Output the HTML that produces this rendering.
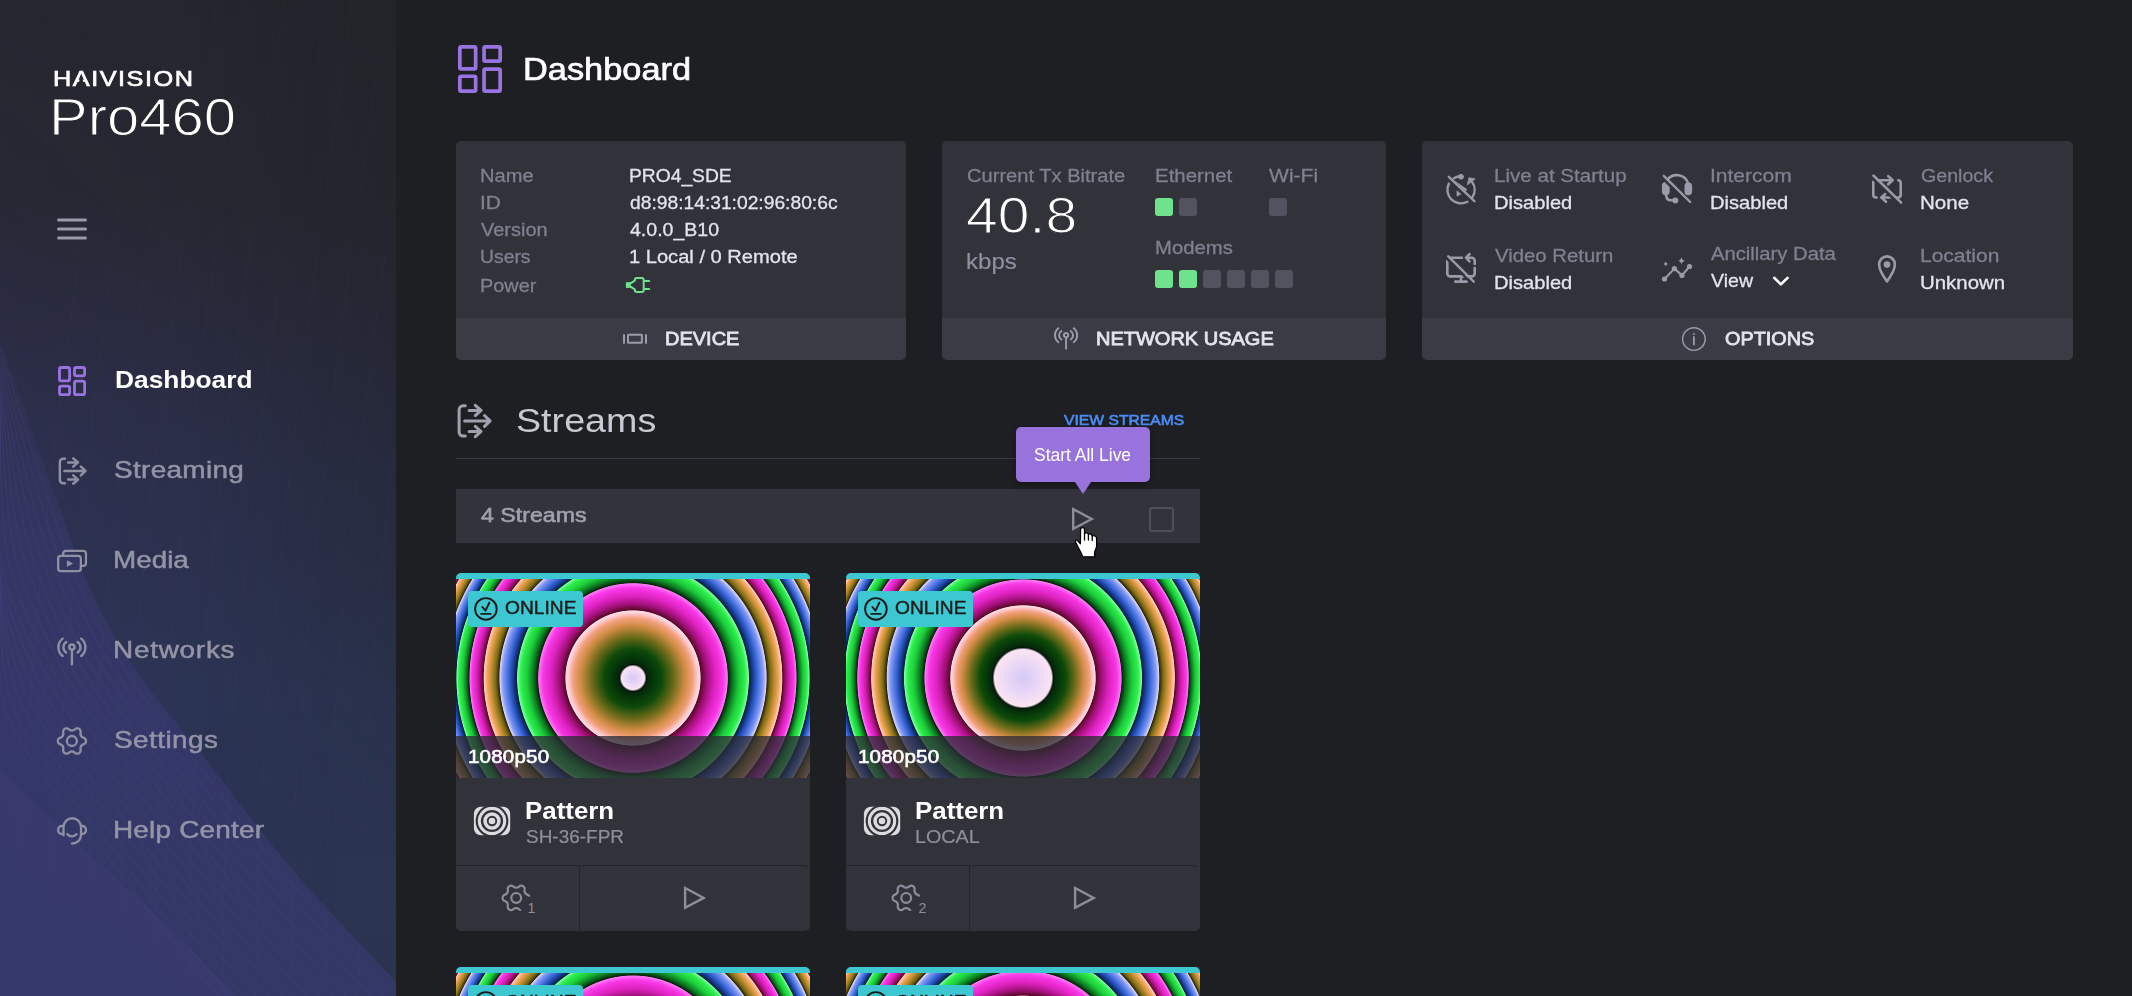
<!DOCTYPE html>
<html lang="en">
<head>
<meta charset="utf-8">
<title>Haivision Pro460 - Dashboard</title>
<style>
*{box-sizing:border-box;margin:0;padding:0}
html,body{width:2132px;height:996px;overflow:hidden;background:#1e1f22}
body{font-family:"Liberation Sans",sans-serif;color:#e4e4ec;position:relative}
.a{position:absolute}
.t{position:absolute;white-space:nowrap;line-height:1;transform-origin:0 50%}
svg{position:absolute;overflow:visible}
#side{position:absolute;left:0;top:0;width:396px;height:996px;overflow:hidden;background:#2a2e48}
.card{position:absolute;background:#31323a;border-radius:5px;overflow:hidden}
.foot{position:absolute;left:0;right:0;bottom:0;height:42px;background:#3a3b45}
.sq{position:absolute;width:18px;height:18px;border-radius:3px;background:#52535f}
.sq.on{background:#6fe28e}
.sc{position:absolute;width:354px;height:358px;border-radius:5px;overflow:hidden;background:#31323a}
</style>
</head>
<body>
<div id="side">
<div class="a" style="inset:0;background:linear-gradient(180deg,#25262d 0px,#26272f 200px,#282a3a 330px,#2a2f47 480px,#2b3452 700px,#2a3450 996px)"></div>
<div class="a" style="inset:0;background:linear-gradient(90deg,rgba(64,58,130,.17) 0%,rgba(60,56,120,.07) 50%,rgba(40,40,80,0) 85%);-webkit-mask-image:linear-gradient(180deg,rgba(0,0,0,.15) 0px,rgba(0,0,0,.45) 200px,#000 420px);mask-image:linear-gradient(180deg,rgba(0,0,0,.15) 0px,rgba(0,0,0,.45) 200px,#000 420px)"></div>
<div class="a" style="inset:0;background:linear-gradient(270deg,rgba(30,30,36,.24) 0%,rgba(30,30,36,.08) 28%,rgba(30,30,36,0) 50%);-webkit-mask-image:linear-gradient(180deg,#000 0px,#000 560px,transparent 860px);mask-image:linear-gradient(180deg,#000 0px,#000 560px,transparent 860px)"></div>
<svg style="left:0;top:0" width="396" height="996" viewBox="0 0 396 996"><defs><linearGradient id="pg" gradientUnits="userSpaceOnUse" x1="0" y1="340" x2="0" y2="996"><stop offset="0" stop-color="#34335e" stop-opacity=".25"/><stop offset=".3" stop-color="#38386c" stop-opacity=".6"/><stop offset=".6" stop-color="#36386c" stop-opacity=".78"/><stop offset="1" stop-color="#343868" stop-opacity=".85"/></linearGradient><linearGradient id="pg2" gradientUnits="userSpaceOnUse" x1="0" y1="996" x2="160" y2="840"><stop offset="0" stop-color="#36396c" stop-opacity=".75"/><stop offset=".8" stop-color="#3b3b72" stop-opacity=".6"/><stop offset="1" stop-color="#45417e" stop-opacity=".65"/></linearGradient></defs><path d="M0.0 340.0C9.2 365.8 39.2 451.7 55.0 495.0C70.8 538.3 80.3 569.2 95.0 600.0C109.7 630.8 125.7 654.8 143.0 680.0C160.3 705.2 174.2 719.5 199.0 751.0C223.8 782.5 259.2 830.5 292.0 869.0C324.8 907.5 378.7 963.2 396.0 982.0V996H0Z" fill="url(#pg)"/><path d="M0.0 770.0C13.3 782.7 53.5 821.3 80.0 846.0C106.5 870.7 132.7 892.7 159.0 918.0C185.3 943.3 224.8 984.7 238.0 998.0H0Z" fill="url(#pg2)"/><path d="M0.0 347.2C8.2 373.0 34.2 458.9 49.0 502.2C63.8 545.5 74.3 576.4 89.0 607.2C103.7 638.0 119.7 662.0 137.0 687.2C154.3 712.4 168.2 726.7 193.0 758.2C217.8 789.7 253.2 837.7 286.0 876.2C318.8 914.7 372.7 970.4 390.0 989.2" fill="none" stroke="#6a62c0" stroke-opacity=".13" stroke-width="1"/><path d="M0.0 354.4C7.2 380.2 29.2 466.1 43.0 509.4C56.8 552.7 68.3 583.6 83.0 614.4C97.7 645.2 113.7 669.2 131.0 694.4C148.3 719.6 162.2 733.9 187.0 765.4C211.8 796.9 247.2 844.9 280.0 883.4C312.8 921.9 366.7 977.6 384.0 996.4" fill="none" stroke="#6a62c0" stroke-opacity=".13" stroke-width="1"/><path d="M0.0 361.6C6.2 387.4 24.2 473.3 37.0 516.6C49.8 559.9 62.3 590.8 77.0 621.6C91.7 652.4 107.7 676.4 125.0 701.6C142.3 726.8 156.2 741.1 181.0 772.6C205.8 804.1 241.2 852.1 274.0 890.6C306.8 929.1 360.7 984.8 378.0 1003.6" fill="none" stroke="#6a62c0" stroke-opacity=".13" stroke-width="1"/><path d="M0.0 368.8C5.2 394.6 19.2 480.5 31.0 523.8C42.8 567.1 56.3 598.0 71.0 628.8C85.7 659.6 101.7 683.6 119.0 708.8C136.3 734.0 150.2 748.3 175.0 779.8C199.8 811.3 235.2 859.3 268.0 897.8C300.8 936.3 354.7 992.0 372.0 1010.8" fill="none" stroke="#6a62c0" stroke-opacity=".13" stroke-width="1"/><path d="M0.0 376.0C4.2 401.8 14.2 487.7 25.0 531.0C35.8 574.3 50.3 605.2 65.0 636.0C79.7 666.8 95.7 690.8 113.0 716.0C130.3 741.2 144.2 755.5 169.0 787.0C193.8 818.5 229.2 866.5 262.0 905.0C294.8 943.5 348.7 999.2 366.0 1018.0" fill="none" stroke="#6a62c0" stroke-opacity=".13" stroke-width="1"/><path d="M0.0 383.2C3.2 409.0 9.2 494.9 19.0 538.2C28.8 581.5 44.3 612.4 59.0 643.2C73.7 674.0 89.7 698.0 107.0 723.2C124.3 748.4 138.2 762.7 163.0 794.2C187.8 825.7 223.2 873.7 256.0 912.2C288.8 950.7 342.7 1006.4 360.0 1025.2" fill="none" stroke="#6a62c0" stroke-opacity=".13" stroke-width="1"/><path d="M0.0 390.4C2.2 416.2 4.2 502.1 13.0 545.4C21.8 588.7 38.3 619.6 53.0 650.4C67.7 681.2 83.7 705.2 101.0 730.4C118.3 755.6 132.2 769.9 157.0 801.4C181.8 832.9 217.2 880.9 250.0 919.4C282.8 957.9 336.7 1013.6 354.0 1032.4" fill="none" stroke="#6a62c0" stroke-opacity=".13" stroke-width="1"/><path d="M0.0 397.6C1.2 423.4 -0.8 509.3 7.0 552.6C14.8 595.9 32.3 626.8 47.0 657.6C61.7 688.4 77.7 712.4 95.0 737.6C112.3 762.8 126.2 777.1 151.0 808.6C175.8 840.1 211.2 888.1 244.0 926.6C276.8 965.1 330.7 1020.8 348.0 1039.6" fill="none" stroke="#6a62c0" stroke-opacity=".13" stroke-width="1"/><path d="M0.0 404.8C0.2 430.6 -5.8 516.5 1.0 559.8C7.8 603.1 26.3 634.0 41.0 664.8C55.7 695.6 71.7 719.6 89.0 744.8C106.3 770.0 120.2 784.3 145.0 815.8C169.8 847.3 205.2 895.3 238.0 933.8C270.8 972.3 324.7 1028.0 342.0 1046.8" fill="none" stroke="#6a62c0" stroke-opacity=".13" stroke-width="1"/><path d="M0.0 412.0C0.0 437.8 -5.8 523.7 0.0 567.0C5.8 610.3 21.2 641.2 35.0 672.0C48.8 702.8 65.7 726.8 83.0 752.0C100.3 777.2 114.2 791.5 139.0 823.0C163.8 854.5 199.2 902.5 232.0 941.0C264.8 979.5 318.7 1035.2 336.0 1054.0" fill="none" stroke="#6a62c0" stroke-opacity=".13" stroke-width="1"/><path d="M0.0 419.2C0.0 445.0 -4.8 530.9 0.0 574.2C4.8 617.5 16.2 648.4 29.0 679.2C41.8 710.0 59.7 734.0 77.0 759.2C94.3 784.4 108.2 798.7 133.0 830.2C157.8 861.7 193.2 909.7 226.0 948.2C258.8 986.7 312.7 1042.4 330.0 1061.2" fill="none" stroke="#6a62c0" stroke-opacity=".13" stroke-width="1"/><path d="M0.0 426.4C0.0 452.2 -3.8 538.1 0.0 581.4C3.8 624.7 11.2 655.6 23.0 686.4C34.8 717.2 53.7 741.2 71.0 766.4C88.3 791.6 102.2 805.9 127.0 837.4C151.8 868.9 187.2 916.9 220.0 955.4C252.8 993.9 306.7 1049.6 324.0 1068.4" fill="none" stroke="#6a62c0" stroke-opacity=".13" stroke-width="1"/><path d="M0.0 433.6C0.0 459.4 -2.8 545.3 0.0 588.6C2.8 631.9 6.2 662.8 17.0 693.6C27.8 724.4 47.7 748.4 65.0 773.6C82.3 798.8 96.2 813.1 121.0 844.6C145.8 876.1 181.2 924.1 214.0 962.6C246.8 1001.1 300.7 1056.8 318.0 1075.6" fill="none" stroke="#6a62c0" stroke-opacity=".13" stroke-width="1"/><path d="M0.0 440.8C0.0 466.6 -1.8 552.5 0.0 595.8C1.8 639.1 1.2 670.0 11.0 700.8C20.8 731.6 41.7 755.6 59.0 780.8C76.3 806.0 90.2 820.3 115.0 851.8C139.8 883.3 175.2 931.3 208.0 969.8C240.8 1008.3 294.7 1064.0 312.0 1082.8" fill="none" stroke="#6a62c0" stroke-opacity=".13" stroke-width="1"/><path d="M0.0 448.0C0.0 473.8 -0.8 559.7 0.0 603.0C0.8 646.3 -3.8 677.2 5.0 708.0C13.8 738.8 35.7 762.8 53.0 788.0C70.3 813.2 84.2 827.5 109.0 859.0C133.8 890.5 169.2 938.5 202.0 977.0C234.8 1015.5 288.7 1071.2 306.0 1090.0" fill="none" stroke="#6a62c0" stroke-opacity=".13" stroke-width="1"/><path d="M20 996C14 800 45 500 80 250L115 -5" fill="none" stroke="#8a86c8" stroke-opacity=".04" stroke-width="1"/><path d="M54 996C48 800 79 500 114 250L149 -5" fill="none" stroke="#8a86c8" stroke-opacity=".04" stroke-width="1"/><path d="M88 996C82 800 113 500 148 250L183 -5" fill="none" stroke="#8a86c8" stroke-opacity=".04" stroke-width="1"/><path d="M122 996C116 800 147 500 182 250L217 -5" fill="none" stroke="#8a86c8" stroke-opacity=".04" stroke-width="1"/><path d="M156 996C150 800 181 500 216 250L251 -5" fill="none" stroke="#8a86c8" stroke-opacity=".04" stroke-width="1"/><path d="M190 996C184 800 215 500 250 250L285 -5" fill="none" stroke="#8a86c8" stroke-opacity=".04" stroke-width="1"/><path d="M224 996C218 800 249 500 284 250L319 -5" fill="none" stroke="#8a86c8" stroke-opacity=".04" stroke-width="1"/><path d="M258 996C252 800 283 500 318 250L353 -5" fill="none" stroke="#8a86c8" stroke-opacity=".04" stroke-width="1"/><path d="M292 996C286 800 317 500 352 250L387 -5" fill="none" stroke="#8a86c8" stroke-opacity=".04" stroke-width="1"/><path d="M326 996C320 800 351 500 386 250L421 -5" fill="none" stroke="#8a86c8" stroke-opacity=".04" stroke-width="1"/><path d="M360 996C354 800 385 500 420 250L455 -5" fill="none" stroke="#8a86c8" stroke-opacity=".04" stroke-width="1"/><path d="M394 996C388 800 419 500 454 250L489 -5" fill="none" stroke="#8a86c8" stroke-opacity=".04" stroke-width="1"/></svg>
</div>
<div class="t" style="left:52.86px;top:67.70px;font-size:22.2px;color:#ffffff;letter-spacing:1.316px;transform:scaleX(1.1400);-webkit-text-stroke:0.7px #ffffff;">HAIVISION</div>
<div class="t" style="left:48.95px;top:92.40px;font-size:51px;color:#ffffff;transform:scaleX(1.1377);-webkit-text-stroke:1.1px #25262e;">Pro460</div>
<svg style="left:0;top:0" width="396" height="120" viewBox="0 0 396 120"><path d="M81.2 75.6L77.2 87H85.2Z" fill="#26272f"/></svg>
<svg style="left:57px;top:218px" width="30" height="22" viewBox="0 0 30 22"><g stroke="#9a9aa8" stroke-width="3" stroke-linecap="round"><path d="M1.5 2H28.5M1.5 11H28.5M1.5 20H28.5"/></g></svg>
<div class="t" style="left:114.52px;top:368.25px;font-size:24.5px;color:#ffffff;font-weight:700;transform:scaleX(1.0754);">Dashboard</div>
<div class="t" style="left:114.46px;top:458.25px;font-size:24.5px;color:#9594a6;letter-spacing:0.281px;transform:scaleX(1.1400);-webkit-text-stroke:0.5px #9594a6;">Streaming</div>
<div class="t" style="left:113.33px;top:548.25px;font-size:24.5px;color:#9594a6;transform:scaleX(1.1367);-webkit-text-stroke:0.5px #9594a6;">Media</div>
<div class="t" style="left:113.32px;top:638.25px;font-size:24.5px;color:#9594a6;letter-spacing:0.648px;transform:scaleX(1.1400);-webkit-text-stroke:0.5px #9594a6;">Networks</div>
<div class="t" style="left:114.46px;top:728.25px;font-size:24.5px;color:#9594a6;letter-spacing:0.377px;transform:scaleX(1.1400);-webkit-text-stroke:0.5px #9594a6;">Settings</div>
<div class="t" style="left:113.32px;top:818.25px;font-size:24.5px;color:#9594a6;letter-spacing:0.169px;transform:scaleX(1.1400);-webkit-text-stroke:0.5px #9594a6;">Help Center</div>
<div class="t" style="left:523.15px;top:53.00px;font-size:32px;color:#ffffff;transform:scaleX(1.0736);-webkit-text-stroke:0.7px #ffffff;">Dashboard</div>
<div class="card" style="left:456px;top:141px;width:450px;height:219px"><div class="foot"></div></div>
<div class="t" style="left:479.64px;top:166.00px;font-size:19px;color:#7f8190;transform:scaleX(1.0587);-webkit-text-stroke:0.3px #7f8190;">Name</div>
<div class="t" style="left:629.39px;top:166.00px;font-size:19px;color:#e4e4ec;transform:scaleX(1.0130);-webkit-text-stroke:0.3px #e4e4ec;">PRO4_SDE</div>
<div class="t" style="left:479.60px;top:193.00px;font-size:19px;color:#7f8190;transform:scaleX(1.0996);-webkit-text-stroke:0.3px #7f8190;">ID</div>
<div class="t" style="left:630.40px;top:193.00px;font-size:19px;color:#e4e4ec;transform:scaleX(1.0124);-webkit-text-stroke:0.3px #e4e4ec;">d8:98:14:31:02:96:80:6c</div>
<div class="t" style="left:480.70px;top:220.00px;font-size:19px;color:#7f8190;transform:scaleX(1.0508);-webkit-text-stroke:0.3px #7f8190;">Version</div>
<div class="t" style="left:630.40px;top:220.00px;font-size:19px;color:#e4e4ec;transform:scaleX(1.0271);-webkit-text-stroke:0.3px #e4e4ec;">4.0.0_B10</div>
<div class="t" style="left:479.68px;top:247.00px;font-size:19px;color:#7f8190;transform:scaleX(1.0184);-webkit-text-stroke:0.3px #7f8190;">Users</div>
<div class="t" style="left:629.34px;top:247.00px;font-size:19px;color:#e4e4ec;transform:scaleX(1.0576);-webkit-text-stroke:0.3px #e4e4ec;">1 Local / 0 Remote</div>
<div class="t" style="left:479.65px;top:276.00px;font-size:19px;color:#7f8190;transform:scaleX(1.0462);-webkit-text-stroke:0.3px #7f8190;">Power</div>
<div class="t" style="left:664.95px;top:329.00px;font-size:19px;color:#e4e4ec;transform:scaleX(1.0526);-webkit-text-stroke:0.8px #e4e4ec;">DEVICE</div>
<div class="card" style="left:942px;top:141px;width:444px;height:219px"><div class="foot"></div></div>
<div class="t" style="left:966.80px;top:166.00px;font-size:19px;color:#7f8190;transform:scaleX(1.0578);-webkit-text-stroke:0.3px #7f8190;">Current Tx Bitrate</div>
<div class="t" style="left:966.16px;top:191.00px;font-size:50px;color:#ffffff;letter-spacing:0.077px;transform:scaleX(1.1400);-webkit-text-stroke:1.1px #31323a;">40.8</div>
<div class="t" style="left:965.91px;top:250.70px;font-size:22px;color:#8e90a0;transform:scaleX(1.0930);-webkit-text-stroke:0.2px #8e90a0;">kbps</div>
<div class="t" style="left:1154.52px;top:166.00px;font-size:19px;color:#7f8190;transform:scaleX(1.0762);-webkit-text-stroke:0.3px #7f8190;">Ethernet</div>
<div class="t" style="left:1269.40px;top:166.00px;font-size:19px;color:#7f8190;transform:scaleX(1.1094);-webkit-text-stroke:0.3px #7f8190;">Wi-Fi</div>
<div class="t" style="left:1154.53px;top:238.00px;font-size:19px;color:#7f8190;transform:scaleX(1.0679);-webkit-text-stroke:0.3px #7f8190;">Modems</div>
<div class="sq on" style="left:1155px;top:198px"></div>
<div class="sq" style="left:1179px;top:198px"></div>
<div class="sq" style="left:1269px;top:198px"></div>
<div class="sq on" style="left:1155px;top:270px"></div>
<div class="sq on" style="left:1179px;top:270px"></div>
<div class="sq" style="left:1203px;top:270px"></div>
<div class="sq" style="left:1227px;top:270px"></div>
<div class="sq" style="left:1251px;top:270px"></div>
<div class="sq" style="left:1275px;top:270px"></div>
<div class="t" style="left:1096.25px;top:329.00px;font-size:19px;color:#e4e4ec;transform:scaleX(1.0524);-webkit-text-stroke:0.8px #e4e4ec;">NETWORK USAGE</div>
<div class="card" style="left:1422px;top:141px;width:651px;height:219px"><div class="foot"></div></div>
<div class="t" style="left:1494.02px;top:166.10px;font-size:19px;color:#7f8190;transform:scaleX(1.0831);-webkit-text-stroke:0.3px #7f8190;">Live at Startup</div>
<div class="t" style="left:1494.04px;top:193.30px;font-size:19px;color:#e4e4ec;transform:scaleX(1.0585);-webkit-text-stroke:0.3px #e4e4ec;">Disabled</div>
<div class="t" style="left:1495.10px;top:245.50px;font-size:19px;color:#7f8190;transform:scaleX(1.0710);-webkit-text-stroke:0.3px #7f8190;">Video Return</div>
<div class="t" style="left:1494.04px;top:273.00px;font-size:19px;color:#e4e4ec;transform:scaleX(1.0585);-webkit-text-stroke:0.3px #e4e4ec;">Disabled</div>
<div class="t" style="left:1709.59px;top:166.10px;font-size:19px;color:#7f8190;transform:scaleX(1.1056);-webkit-text-stroke:0.3px #7f8190;">Intercom</div>
<div class="t" style="left:1709.64px;top:193.30px;font-size:19px;color:#e4e4ec;transform:scaleX(1.0585);-webkit-text-stroke:0.3px #e4e4ec;">Disabled</div>
<div class="t" style="left:1710.70px;top:243.80px;font-size:19px;color:#7f8190;transform:scaleX(1.0651);-webkit-text-stroke:0.3px #7f8190;">Ancillary Data</div>
<div class="t" style="left:1710.70px;top:270.80px;font-size:19px;color:#e4e4ec;transform:scaleX(1.0288);-webkit-text-stroke:0.3px #e4e4ec;">View</div>
<div class="t" style="left:1920.80px;top:166.10px;font-size:19px;color:#7f8190;transform:scaleX(1.0328);-webkit-text-stroke:0.3px #7f8190;">Genlock</div>
<div class="t" style="left:1919.72px;top:193.30px;font-size:19px;color:#e4e4ec;transform:scaleX(1.0808);-webkit-text-stroke:0.3px #e4e4ec;">None</div>
<div class="t" style="left:1919.70px;top:245.50px;font-size:19px;color:#7f8190;transform:scaleX(1.1044);-webkit-text-stroke:0.3px #7f8190;">Location</div>
<div class="t" style="left:1919.72px;top:273.00px;font-size:19px;color:#e4e4ec;transform:scaleX(1.0754);-webkit-text-stroke:0.3px #e4e4ec;">Unknown</div>
<div class="t" style="left:1724.50px;top:329.00px;font-size:19px;color:#e4e4ec;transform:scaleX(1.0432);-webkit-text-stroke:0.8px #e4e4ec;">OPTIONS</div>
<div class="t" style="left:516.39px;top:402.50px;font-size:34px;color:#c9c9d4;transform:scaleX(1.1077);">Streams</div>
<div class="t" style="left:1063.80px;top:412.00px;font-size:15px;color:#4b8df6;transform:scaleX(1.0452);-webkit-text-stroke:0.6px #4b8df6;">VIEW STREAMS</div>
<div class="a" style="left:456px;top:457.5px;width:744px;height:1.5px;background:#383942"></div>
<div class="a" style="left:456px;top:489px;width:744px;height:54px;background:#32333b"></div>
<div class="t" style="left:480.80px;top:505.25px;font-size:20.5px;color:#a0a1ae;transform:scaleX(1.1291);-webkit-text-stroke:0.6px #a0a1ae;">4 Streams</div>
<div class="a" style="left:1148.5px;top:506.5px;width:25px;height:25px;border:2.5px solid #4f505c;border-radius:3px"></div>
<div class="a" style="left:1016px;top:427px;width:134px;height:55px;background:#9873dc;border-radius:5px;box-shadow:0 2px 6px rgba(0,0,0,.35)"></div>
<div class="a" style="left:1075px;top:481.5px;width:0;height:0;border-left:8px solid transparent;border-right:8px solid transparent;border-top:12.5px solid #9873dc"></div>
<div class="t" style="left:1034.40px;top:446.55px;font-size:17.5px;color:#ffffff;transform:scaleX(0.9980);">Start All Live</div>
<div class="sc" style="left:456px;top:573px">
<div class="a" style="left:0;top:0;width:354px;height:205px;background:#3cc7d1"></div>
<div class="a" style="left:0;top:6px;width:354px;height:199px;overflow:hidden"><div class="a" style="left:-40px;top:-118px;width:434px;height:434px;background:radial-gradient(circle at 50% 50%,#d6c8f6 0.0px,#ead8f6 7.2px,#fbe4f2 11.5px,#03140c 13.5px,#04240a 14.5px,#063a08 21.9px,#0e4a0a 29.2px,#6a6a18 40.8px,#d08c44 52.4px,#f2a07c 59.8px,#ffc9cf 64.5px,#ffe0ea 67.2px,#5a0826 68.0px,#a01078 73.8px,#dc22be 81.7px,#fa38e8 90.2px,#ff7af6 94.4px,#04220a 95.2px,#0b7a20 99.7px,#1ccc3a 105.8px,#2ff04e 112.2px,#7dffa0 115.5px,#051c3c 116.3px,#17409c 120.0px,#446ede 125.1px,#869cf4 130.2px,#d6d4ff 133.2px,#2e2604 134.0px,#7a6a14 137.3px,#c08e34 141.8px,#fca862 146.3px,#ffd6c6 148.9px,#5a0826 149.7px,#a01078 152.7px,#dc22be 156.7px,#fa38e8 161.0px,#ff7af6 163.1px,#04220a 163.9px,#0b7a20 166.6px,#1ccc3a 170.3px,#2ff04e 174.2px,#7dffa0 176.2px,#051c3c 177.0px,#17409c 179.5px,#446ede 182.9px,#869cf4 186.3px,#d6d4ff 188.3px,#2e2604 189.1px,#7a6a14 191.5px,#c08e34 194.6px,#fca862 197.8px,#ffd6c6 199.7px,#5a0826 200.5px,#a01078 202.7px,#dc22be 205.7px,#fa38e8 208.9px,#ff7af6 210.6px,#04220a 211.4px,#0b7a20 213.4px,#1ccc3a 216.3px,#2ff04e 219.3px,#7dffa0 220.8px)"></div></div>
<div class="a" style="left:0;top:163px;width:354px;height:42px;background:rgba(44,44,52,.78)"></div>
<div class="a" style="left:12px;top:18px;width:115px;height:36px;border-radius:4px;background:#3cc7d1"></div>
<div class="a" style="left:0;top:291.6px;width:123.5px;height:67px;border-top:1.3px solid #24252a"></div>
<div class="a" style="left:122.9px;top:291.6px;width:231.1px;height:67px;border-top:1.3px solid #24252a;border-left:1.3px solid #24252a;border-right:1.3px solid transparent;border-top-right-radius:7px"></div>
</div>
<div class="t" style="left:505.30px;top:600.15px;font-size:17.5px;color:#1f1a1a;transform:scaleX(1.0964);-webkit-text-stroke:0.4px #1f1a1a;">ONLINE</div>
<div class="t" style="left:467.66px;top:748.20px;font-size:18px;color:#ffffff;letter-spacing:0.185px;transform:scaleX(1.1400);-webkit-text-stroke:0.6px #ffffff;">1080p50</div>
<div class="t" style="left:525.22px;top:798.50px;font-size:24px;color:#ffffff;font-weight:700;transform:scaleX(1.0786);">Pattern</div>
<div class="t" style="left:526.30px;top:827.85px;font-size:18.5px;color:#8e8f9c;transform:scaleX(1.0248);-webkit-text-stroke:0.2px #8e8f9c;">SH-36-FPR</div>
<div class="t" style="left:527.60px;top:900.80px;font-size:14.2px;color:#8e8f9c;">1</div>
<div class="sc" style="left:846px;top:573px">
<div class="a" style="left:0;top:0;width:354px;height:205px;background:#3cc7d1"></div>
<div class="a" style="left:0;top:6px;width:354px;height:199px;overflow:hidden"><div class="a" style="left:-40px;top:-118px;width:434px;height:434px;background:radial-gradient(circle at 50% 50%,#d6c8f6 0.0px,#ead8f6 16.5px,#fbe4f2 28.5px,#03140c 30.5px,#04240a 31.5px,#063a08 37.2px,#0e4a0a 42.9px,#6a6a18 51.9px,#d08c44 60.9px,#f2a07c 66.6px,#ffc9cf 70.3px,#ffe0ea 72.3px,#5a0826 73.1px,#a01078 78.7px,#dc22be 86.2px,#fa38e8 94.2px,#ff7af6 98.2px,#04220a 99.0px,#0b7a20 103.3px,#1ccc3a 109.2px,#2ff04e 115.4px,#7dffa0 118.6px,#051c3c 119.4px,#17409c 123.0px,#446ede 128.0px,#869cf4 133.0px,#d6d4ff 135.9px,#2e2604 136.7px,#7a6a14 140.0px,#c08e34 144.3px,#fca862 148.7px,#ffd6c6 151.4px,#5a0826 152.2px,#a01078 155.1px,#dc22be 159.0px,#fa38e8 163.2px,#ff7af6 165.3px,#04220a 166.1px,#0b7a20 168.8px,#1ccc3a 172.4px,#2ff04e 176.3px,#7dffa0 178.2px,#051c3c 179.0px,#17409c 181.5px,#446ede 184.9px,#869cf4 188.2px,#d6d4ff 190.2px,#2e2604 191.0px,#7a6a14 193.4px,#c08e34 196.5px,#fca862 199.7px,#ffd6c6 201.6px,#5a0826 202.4px,#a01078 204.5px,#dc22be 207.5px,#fa38e8 210.7px,#ff7af6 212.3px,#04220a 213.1px,#0b7a20 215.1px,#1ccc3a 218.0px,#2ff04e 221.0px,#7dffa0 222.5px)"></div></div>
<div class="a" style="left:0;top:163px;width:354px;height:42px;background:rgba(44,44,52,.78)"></div>
<div class="a" style="left:12px;top:18px;width:115px;height:36px;border-radius:4px;background:#3cc7d1"></div>
<div class="a" style="left:0;top:291.6px;width:123.5px;height:67px;border-top:1.3px solid #24252a"></div>
<div class="a" style="left:122.9px;top:291.6px;width:231.1px;height:67px;border-top:1.3px solid #24252a;border-left:1.3px solid #24252a;border-right:1.3px solid transparent;border-top-right-radius:7px"></div>
</div>
<div class="t" style="left:895.30px;top:600.15px;font-size:17.5px;color:#1f1a1a;transform:scaleX(1.0964);-webkit-text-stroke:0.4px #1f1a1a;">ONLINE</div>
<div class="t" style="left:857.66px;top:748.20px;font-size:18px;color:#ffffff;letter-spacing:0.185px;transform:scaleX(1.1400);-webkit-text-stroke:0.6px #ffffff;">1080p50</div>
<div class="t" style="left:915.22px;top:798.50px;font-size:24px;color:#ffffff;font-weight:700;transform:scaleX(1.0786);">Pattern</div>
<div class="t" style="left:915.23px;top:827.85px;font-size:18.5px;color:#8e8f9c;transform:scaleX(1.0677);-webkit-text-stroke:0.2px #8e8f9c;">LOCAL</div>
<div class="t" style="left:918.60px;top:900.80px;font-size:14.2px;color:#8e8f9c;">2</div>
<div class="sc" style="left:456px;top:967px">
<div class="a" style="left:0;top:0;width:354px;height:205px;background:#3cc7d1"></div>
<div class="a" style="left:0;top:6px;width:354px;height:199px;overflow:hidden"><div class="a" style="left:-40px;top:-118px;width:434px;height:434px;background:radial-gradient(circle at 50% 50%,#d6c8f6 0.0px,#ead8f6 12.1px,#fbe4f2 20.5px,#03140c 22.5px,#04240a 23.5px,#063a08 29.9px,#0e4a0a 36.4px,#6a6a18 46.5px,#d08c44 56.6px,#f2a07c 63.0px,#ffc9cf 67.1px,#ffe0ea 69.4px,#5a0826 70.2px,#a01078 75.9px,#dc22be 83.7px,#fa38e8 91.9px,#ff7af6 96.1px,#04220a 96.9px,#0b7a20 101.3px,#1ccc3a 107.2px,#2ff04e 113.6px,#7dffa0 116.8px,#051c3c 117.6px,#17409c 121.3px,#446ede 126.4px,#869cf4 131.4px,#d6d4ff 134.4px,#2e2604 135.2px,#7a6a14 138.5px,#c08e34 142.9px,#fca862 147.3px,#ffd6c6 150.0px,#5a0826 150.8px,#a01078 153.7px,#dc22be 157.7px,#fa38e8 161.9px,#ff7af6 164.1px,#04220a 164.9px,#0b7a20 167.6px,#1ccc3a 171.2px,#2ff04e 175.1px,#7dffa0 177.1px,#051c3c 177.9px,#17409c 180.3px,#446ede 183.7px,#869cf4 187.1px,#d6d4ff 189.2px,#2e2604 190.0px,#7a6a14 192.3px,#c08e34 195.5px,#fca862 198.6px,#ffd6c6 200.5px,#5a0826 201.3px,#a01078 203.5px,#dc22be 206.5px,#fa38e8 209.7px,#ff7af6 211.3px,#04220a 212.1px,#0b7a20 214.2px,#1ccc3a 217.0px,#2ff04e 220.0px,#7dffa0 221.5px)"></div></div>
<div class="a" style="left:0;top:163px;width:354px;height:42px;background:rgba(44,44,52,.78)"></div>
<div class="a" style="left:12px;top:18px;width:115px;height:36px;border-radius:4px;background:#3cc7d1"></div>
<div class="a" style="left:0;top:291.6px;width:123.5px;height:67px;border-top:1.3px solid #24252a"></div>
<div class="a" style="left:122.9px;top:291.6px;width:231.1px;height:67px;border-top:1.3px solid #24252a;border-left:1.3px solid #24252a;border-right:1.3px solid transparent;border-top-right-radius:7px"></div>
</div>
<div class="t" style="left:505.30px;top:994.15px;font-size:17.5px;color:#1f1a1a;transform:scaleX(1.0964);-webkit-text-stroke:0.4px #1f1a1a;">ONLINE</div>
<div class="t" style="left:467.66px;top:1142.20px;font-size:18px;color:#ffffff;letter-spacing:0.185px;transform:scaleX(1.1400);-webkit-text-stroke:0.6px #ffffff;">1080p50</div>
<div class="t" style="left:525.22px;top:1192.50px;font-size:24px;color:#ffffff;font-weight:700;transform:scaleX(1.0786);">Pattern</div>
<div class="t" style="left:526.30px;top:1221.85px;font-size:18.5px;color:#8e8f9c;-webkit-text-stroke:0.2px #8e8f9c;"></div>
<div class="t" style="left:528.60px;top:1294.80px;font-size:14.2px;color:#8e8f9c;"></div>
<div class="sc" style="left:846px;top:967px">
<div class="a" style="left:0;top:0;width:354px;height:205px;background:#3cc7d1"></div>
<div class="a" style="left:0;top:6px;width:354px;height:199px;overflow:hidden"><div class="a" style="left:-40px;top:-118px;width:434px;height:434px;background:radial-gradient(circle at 50% 50%,#d6c8f6 0.0px,#ead8f6 20.9px,#fbe4f2 36.5px,#03140c 38.5px,#04240a 39.5px,#063a08 44.6px,#0e4a0a 49.7px,#6a6a18 57.7px,#d08c44 65.8px,#f2a07c 70.9px,#ffc9cf 74.1px,#ffe0ea 76.0px,#5a0826 76.8px,#a01078 82.1px,#dc22be 89.3px,#fa38e8 97.0px,#ff7af6 100.9px,#04220a 101.7px,#0b7a20 105.9px,#1ccc3a 111.7px,#2ff04e 117.8px,#7dffa0 120.8px,#051c3c 121.6px,#17409c 125.2px,#446ede 130.1px,#869cf4 135.0px,#d6d4ff 137.9px,#2e2604 138.7px,#7a6a14 141.9px,#c08e34 146.2px,#fca862 150.5px,#ffd6c6 153.1px,#5a0826 153.9px,#a01078 156.8px,#dc22be 160.7px,#fa38e8 164.9px,#ff7af6 167.0px,#04220a 167.8px,#0b7a20 170.4px,#1ccc3a 174.0px,#2ff04e 177.8px,#7dffa0 179.7px,#051c3c 180.5px,#17409c 183.0px,#446ede 186.3px,#869cf4 189.7px,#d6d4ff 191.7px,#2e2604 192.5px,#7a6a14 194.8px,#c08e34 197.9px,#fca862 201.0px,#ffd6c6 202.9px,#5a0826 203.7px,#a01078 205.9px,#dc22be 208.8px,#fa38e8 212.0px,#ff7af6 213.5px,#04220a 214.3px,#0b7a20 216.4px,#1ccc3a 219.2px,#2ff04e 222.2px,#7dffa0 223.7px)"></div></div>
<div class="a" style="left:0;top:163px;width:354px;height:42px;background:rgba(44,44,52,.78)"></div>
<div class="a" style="left:12px;top:18px;width:115px;height:36px;border-radius:4px;background:#3cc7d1"></div>
<div class="a" style="left:0;top:291.6px;width:123.5px;height:67px;border-top:1.3px solid #24252a"></div>
<div class="a" style="left:122.9px;top:291.6px;width:231.1px;height:67px;border-top:1.3px solid #24252a;border-left:1.3px solid #24252a;border-right:1.3px solid transparent;border-top-right-radius:7px"></div>
</div>
<div class="t" style="left:895.30px;top:994.15px;font-size:17.5px;color:#1f1a1a;transform:scaleX(1.0964);-webkit-text-stroke:0.4px #1f1a1a;">ONLINE</div>
<div class="t" style="left:857.66px;top:1142.20px;font-size:18px;color:#ffffff;letter-spacing:0.185px;transform:scaleX(1.1400);-webkit-text-stroke:0.6px #ffffff;">1080p50</div>
<div class="t" style="left:915.22px;top:1192.50px;font-size:24px;color:#ffffff;font-weight:700;transform:scaleX(1.0786);">Pattern</div>
<div class="t" style="left:916.30px;top:1221.85px;font-size:18.5px;color:#8e8f9c;-webkit-text-stroke:0.2px #8e8f9c;"></div>
<div class="t" style="left:918.60px;top:1294.80px;font-size:14.2px;color:#8e8f9c;"></div>
<svg style="left:0;top:0;z-index:50" width="2132" height="996" viewBox="0 0 2132 996"><g fill="none" stroke="#9973e2" stroke-width="2.8" stroke-linecap="round" stroke-linejoin="round" ><rect x="59.50" y="367.50" width="10.10" height="13.30" rx="1.80"/><rect x="59.50" y="386.20" width="10.10" height="8.50" rx="1.80"/><rect x="74.50" y="367.50" width="10.10" height="8.30" rx="1.80"/><rect x="74.50" y="381.10" width="10.10" height="13.60" rx="1.80"/></g>
<g fill="none" stroke="#9973e2" stroke-width="3.7" stroke-linecap="round" stroke-linejoin="round" ><rect x="459.85" y="46.85" width="15.80" height="22.00" rx="1.35"/><rect x="459.85" y="76.25" width="15.80" height="14.90" rx="1.35"/><rect x="484.05" y="46.85" width="16.10" height="14.30" rx="1.35"/><rect x="484.05" y="69.15" width="16.10" height="22.00" rx="1.35"/></g>
<g fill="none" stroke="#a0a1ae" stroke-width="3" stroke-linecap="round" stroke-linejoin="round" ><path d="M465.3 405.8H463.1a4 4 0 0 0-4 4V432.1a4 4 0 0 0 4 4H465.3M469.1 410.4H480.6M475.3 405.3L481.1 410.4L475.3 415.6M464.6 420.9H489.6M484.5 415.5L490.1 420.9L484.5 426.4M469.1 431.5H480.6M475.3 426.3L481.1 431.5L475.3 436.7"/></g>
<g fill="none" stroke="#8f90a2" stroke-width="3" stroke-linecap="round" stroke-linejoin="round" transform="translate(-319.028,129.803) scale(0.8253,0.8105)"><path d="M465.3 405.8H463.1a4 4 0 0 0-4 4V432.1a4 4 0 0 0 4 4H465.3M469.1 410.4H480.6M475.3 405.3L481.1 410.4L475.3 415.6M464.6 420.9H489.6M484.5 415.5L490.1 420.9L484.5 426.4M469.1 431.5H480.6M475.3 426.3L481.1 431.5L475.3 436.7"/></g>
<g fill="none" stroke="#8f90a2" stroke-width="2.3" stroke-linecap="round" stroke-linejoin="round" ><rect x="58.15" y="555.95" width="22.7" height="15.2" rx="2.6"/><path d="M63.15 555V553.45a2.6 2.6 0 0 1 2.6-2.6H83.35a2.6 2.6 0 0 1 2.6 2.6V563.25a2.6 2.6 0 0 1-2.6 2.6H82"/></g>
<g fill="#8f90a2" stroke="none" stroke-width="0" stroke-linecap="round" stroke-linejoin="round" ><path d="M66.9 560.2L73.1 563.6L66.9 567Z"/></g>
<g fill="none" stroke="#8f90a2" stroke-width="2.4" stroke-linecap="round" stroke-linejoin="round" ><circle cx="71.9" cy="647.1" r="2.6"/><path d="M71.9 650.5V664.3M66.2 642A6.4 6.4 0 0 0 66.2 652.6M77.6 642A6.4 6.4 0 0 1 77.6 652.6M62.6 638.6A11.1 11.1 0 0 0 62.6 656M81.2 638.6A11.1 11.1 0 0 1 81.2 656"/></g>
<g fill="none" stroke="#9a9ba8" stroke-width="2.4" stroke-linecap="round" stroke-linejoin="round" transform="translate(1007.007,-180.223) scale(0.8215,0.7964)"><circle cx="71.9" cy="647.1" r="2.6"/><path d="M71.9 650.5V664.3M66.2 642A6.4 6.4 0 0 0 66.2 652.6M77.6 642A6.4 6.4 0 0 1 77.6 652.6M62.6 638.6A11.1 11.1 0 0 0 62.6 656M81.2 638.6A11.1 11.1 0 0 1 81.2 656"/></g>
<g fill="none" stroke="#8f90a2" stroke-width="2.3" stroke-linecap="round" stroke-linejoin="round" ><path d="M86.00 741.00L85.92 741.73L85.68 742.45L85.27 743.12L84.71 743.72L83.78 744.18L82.85 744.56L82.22 744.96L81.72 745.37L81.31 745.80L80.99 746.25L80.76 746.75L80.60 747.32L80.49 747.96L80.45 748.70L80.60 749.70L80.66 750.73L80.42 751.52L80.04 752.21L79.55 752.77L78.95 753.21L78.27 753.51L77.53 753.65L76.75 753.64L75.95 753.45L75.08 752.88L74.29 752.26L73.63 751.92L73.02 751.69L72.45 751.55L71.90 751.50L71.35 751.55L70.78 751.69L70.17 751.92L69.51 752.26L68.72 752.88L67.85 753.45L67.05 753.64L66.27 753.65L65.53 753.51L64.85 753.21L64.25 752.77L63.76 752.21L63.38 751.52L63.14 750.73L63.20 749.70L63.35 748.70L63.31 747.96L63.20 747.32L63.04 746.75L62.81 746.25L62.49 745.80L62.08 745.37L61.58 744.96L60.95 744.56L60.02 744.18L59.09 743.72L58.53 743.12L58.12 742.45L57.88 741.73L57.80 741.00L57.88 740.27L58.12 739.55L58.53 738.88L59.09 738.28L60.02 737.82L60.95 737.44L61.58 737.04L62.08 736.63L62.49 736.20L62.81 735.75L63.04 735.25L63.20 734.68L63.31 734.04L63.35 733.30L63.20 732.30L63.14 731.27L63.38 730.48L63.76 729.79L64.25 729.23L64.85 728.79L65.53 728.49L66.27 728.35L67.05 728.36L67.85 728.55L68.72 729.12L69.51 729.74L70.17 730.08L70.78 730.31L71.35 730.45L71.90 730.50L72.45 730.45L73.02 730.31L73.63 730.08L74.29 729.74L75.08 729.12L75.95 728.55L76.75 728.36L77.53 728.35L78.27 728.49L78.95 728.79L79.55 729.23L80.04 729.79L80.42 730.48L80.66 731.27L80.60 732.30L80.45 733.30L80.49 734.04L80.60 734.68L80.76 735.25L80.99 735.75L81.31 736.20L81.72 736.63L82.22 737.04L82.85 737.44L83.78 737.82L84.71 738.28L85.27 738.88L85.68 739.55L85.92 740.27L86.00 741.00Z"/><circle cx="71.9" cy="741" r="5"/></g>
<g fill="none" stroke="#8f90a2" stroke-width="2.3" stroke-linecap="round" stroke-linejoin="round" ><path d="M63.5 835.4V827A8.75 8.75 0 0 1 81 827V834.5C81 840 77 843.6 71.9 843.6M63.5 826H61.7a3.5 3.5 0 0 0-3.5 3.5v0.9a3.5 3.5 0 0 0 3.5 3.5H63.5M81 826h1.45a3.5 3.5 0 0 1 3.5 3.5v0.9a3.5 3.5 0 0 1-3.5 3.5H81M67.3 834.1Q71.9 838.6 76.6 834.1"/></g>
<g fill="none" stroke="#6fe28e" stroke-width="2" stroke-linecap="round" stroke-linejoin="round" ><path d="M630.5 283.4L634.8 280.6V279.9a2 2 0 0 1 2-2H641.7a2 2 0 0 1 2 2V289.9a2 2 0 0 1-2 2H636.8a2 2 0 0 1-2-2V289.4L630.5 286.7M644.7 281.1H649.2M644.7 288.9H649.2"/></g>
<g fill="#6fe28e" stroke="none" stroke-width="0" stroke-linecap="round" stroke-linejoin="round" ><rect x="625.9" y="282.2" width="4.8" height="5.7"/></g>
<g fill="none" stroke="#9a9ba8" stroke-width="2" stroke-linecap="round" stroke-linejoin="round" ><rect x="628" y="334.7" width="13.9" height="8.1" rx="0.5"/><path d="M624 335V343M646 335V343"/></g>
<g fill="none" stroke="#9a9ba8" stroke-width="2.4" stroke-linecap="round" stroke-linejoin="round" ><path d="M1461 176.2A13.6 13.6 0 0 0 1453.8 178.3M1449 183.4A13.6 13.6 0 0 0 1467.4 201.8M1472.4 197.2A13.6 13.6 0 0 0 1471.9 181.6"/></g>
<g fill="#9a9ba8" stroke="#9a9ba8" stroke-width="0.8" stroke-linecap="round" stroke-linejoin="round" ><circle cx="1461" cy="176.7" r="2.5"/><path d="M1467.4 184.6L1469 177.7L1474.9 178.9Z"/><path d="M1457 191V196.1L1461 194Z"/></g>
<g fill="#9a9ba8" stroke="none" stroke-width="0" stroke-linecap="round" stroke-linejoin="round" ><path d="M1453.9 180.1L1467.1 189.3L1465.7 191.4Z"/></g>
<g fill="none" stroke="#31323a" stroke-width="2.2" stroke-linecap="round" stroke-linejoin="round" ><path d="M1446.9 178.7L1472.5 203.1"/></g>
<g fill="none" stroke="#9a9ba8" stroke-width="2.4" stroke-linecap="round" stroke-linejoin="round" ><path d="M1448.8 176.8L1474.4 201.2"/></g>
<g fill="none" stroke="#9a9ba8" stroke-width="2.6" stroke-linecap="round" stroke-linejoin="round" ><path d="M1667.5 179.5A12 12 0 0 1 1688 183"/><path d="M1666.2 195.2C1666.2 198.5 1668 200.2 1671 200.3H1675"/></g>
<g fill="#9a9ba8" stroke="none" stroke-width="0" stroke-linecap="round" stroke-linejoin="round" ><rect x="1684.5" y="182.5" width="7.6" height="12.7" rx="3.6"/><rect x="1661.9" y="182" width="7.8" height="13.2" rx="3.6"/><circle cx="1675.3" cy="200.4" r="3"/></g>
<g fill="none" stroke="#31323a" stroke-width="2.2" stroke-linecap="round" stroke-linejoin="round" ><path d="M1661.9 177.7L1688.3 203.9"/></g>
<g fill="none" stroke="#9a9ba8" stroke-width="2.4" stroke-linecap="round" stroke-linejoin="round" ><path d="M1663.8 175.8L1690.2 202"/></g>
<g fill="none" stroke="#9a9ba8" stroke-width="2.6" stroke-linecap="round" stroke-linejoin="round" ><path d="M1878 180.3H1892.2M1888.2 176.1L1892.7 180.3L1888.2 184.3M1898.3 180.3a2.4 2.4 0 0 1 2.4 2.4V195.1a2.4 2.4 0 0 1-2.4 2.4H1896.9M1873.3 181.5V195.1a2.4 2.4 0 0 0 2.4 2.4H1876.6M1881.8 197.5H1890.3M1885.6 193.6L1881.3 197.5L1886 201.8"/></g>
<g fill="none" stroke="#31323a" stroke-width="2.2" stroke-linecap="round" stroke-linejoin="round" ><path d="M1871.5 177.4L1899.3 204.6"/></g>
<g fill="none" stroke="#9a9ba8" stroke-width="2.5" stroke-linecap="round" stroke-linejoin="round" ><path d="M1873.4 175.5L1901.2 202.7"/></g>
<g fill="none" stroke="#9a9ba8" stroke-width="2.6" stroke-linecap="round" stroke-linejoin="round" ><path d="M1450.2 257.7H1461.9M1447.3 260.6V273.4a3 3 0 0 0 3 3H1471.7a3 3 0 0 0 3-3V268.1M1461 276.4V281.6M1455.3 281.6H1466.7M1474.7 263.9V260.7a3 3 0 0 0-3-3H1466.5M1469.5 254.2L1466 257.7L1469.5 261.3"/></g>
<g fill="none" stroke="#31323a" stroke-width="2.2" stroke-linecap="round" stroke-linejoin="round" ><path d="M1446.4 258.2L1471.8 283.5"/></g>
<g fill="none" stroke="#9a9ba8" stroke-width="2.5" stroke-linecap="round" stroke-linejoin="round" ><path d="M1448.3 256.3L1473.7 281.6"/></g>
<g fill="none" stroke="#9a9ba8" stroke-width="2.1" stroke-linecap="round" stroke-linejoin="round" ><path d="M1664.5 279L1674.4 268.6L1682 275.4L1689.5 266.5"/></g>
<g fill="#9a9ba8" stroke="none" stroke-width="0" stroke-linecap="round" stroke-linejoin="round" ><circle cx="1664.5" cy="279" r="2.6"/><circle cx="1674.4" cy="268.6" r="2.6"/><circle cx="1682" cy="275.4" r="2.6"/><circle cx="1689.5" cy="266.5" r="2.6"/><path d="M1665.7 261.5Q1666.228 263.37199999999996 1668.1000000000001 263.9Q1666.228 264.428 1665.7 266.29999999999995Q1665.172 264.428 1663.3 263.9Q1665.172 263.37199999999996 1665.7 261.5Z"/><path d="M1681.5 257.6Q1682.204 260.096 1684.7 260.8Q1682.204 261.504 1681.5 264.0Q1680.796 261.504 1678.3 260.8Q1680.796 260.096 1681.5 257.6Z"/></g>
<g fill="none" stroke="#9a9ba8" stroke-width="2.6" stroke-linecap="round" stroke-linejoin="round" ><path d="M1887 281.4C1887 281.4 1879.1 270.8 1879.1 264.3A7.9 7.9 0 0 1 1894.9 264.3C1894.9 270.8 1887 281.4 1887 281.4Z"/></g>
<g fill="#9a9ba8" stroke="none" stroke-width="0" stroke-linecap="round" stroke-linejoin="round" ><circle cx="1887" cy="264.6" r="3.3"/></g>
<g fill="none" stroke="#ffffff" stroke-width="2.7" stroke-linecap="round" stroke-linejoin="round" ><path d="M1774.3 277.9L1780.9 284.4L1787.5 277.9"/></g>
<g fill="none" stroke="#9a9ba8" stroke-width="1.4" stroke-linecap="round" stroke-linejoin="round" ><circle cx="1693.9" cy="339.1" r="11.3"/></g>
<g fill="none" stroke="#9a9ba8" stroke-width="1.8" stroke-linecap="round" stroke-linejoin="round" ><path d="M1693.9 337V344.6"/><circle cx="1693.9" cy="333.9" r="0.3"/></g>
<g fill="none" stroke="#8c8d9a" stroke-width="2.4" stroke-linecap="round" stroke-linejoin="miter" ><path d="M1073.2 509.1V528.8L1091.8 519.0Z"/></g>
<clipPath id="c456_573"><rect x="473.9" y="806.75" width="36.3" height="28.45" rx="7"/></clipPath>
<g fill="none" stroke="#dcdcde" stroke-width="2" stroke-linecap="round" stroke-linejoin="round" ><g clip-path="url(#c456_573)"><circle cx="492" cy="821" r="23.2" stroke-width="13.7"/><circle cx="492" cy="821" r="12.65" stroke-width="3.1"/><circle cx="492" cy="821" r="6.97" stroke-width="3.55"/><circle cx="492" cy="821" r="3.3" fill="#dcdcde" stroke="none"/></g></g>
<g fill="none" stroke="#8c8d9a" stroke-width="2.2" stroke-linecap="round" stroke-linejoin="round" ><path d="M520.11 909.93L519.49 909.62L518.84 909.00L518.31 908.70L517.82 908.47L517.37 908.30L516.94 908.18L516.52 908.12L516.11 908.10L515.69 908.14L515.27 908.23L514.82 908.37L514.36 908.57L513.85 908.82L513.29 909.20L512.62 909.79L512.01 910.01L511.42 910.11L510.84 910.12L510.28 910.03L509.75 909.85L509.27 909.60L508.83 909.26L508.45 908.85L508.13 908.38L507.89 907.84L507.73 907.23L507.71 906.52L507.91 905.67L507.90 905.07L507.85 904.54L507.77 904.07L507.65 903.64L507.49 903.25L507.30 902.88L507.05 902.55L506.75 902.23L506.40 901.91L505.99 901.61L505.51 901.30L504.88 901.00L504.06 900.71L503.57 900.29L503.20 899.82L502.91 899.31L502.72 898.78L502.62 898.24L502.61 897.69L502.69 897.14L502.86 896.61L503.12 896.10L503.48 895.62L503.93 895.19L504.58 894.83L505.39 894.57L505.89 894.27L506.31 893.96L506.67 893.65L506.98 893.33L507.24 893.00L507.45 892.64L507.62 892.26L507.74 891.84L507.83 891.37L507.89 890.86L507.91 890.28L507.82 889.55L507.70 888.72L507.84 888.10L508.07 887.55L508.37 887.05L508.73 886.63L509.16 886.28L509.63 886.00L510.15 885.80L510.70 885.70L511.28 885.68L511.87 885.75L512.48 885.94L513.13 886.42L513.73 886.90L514.24 887.18L514.72 887.38L515.16 887.54L515.59 887.64L516.01 887.69L516.42 887.69L516.84 887.64L517.27 887.53L517.71 887.37L518.19 887.16L518.71 886.88L519.33 886.33L519.96 885.93L520.57 885.75L521.16 885.68L521.73 885.70L522.28 885.81L522.80 886.01L523.27 886.30L523.69 886.65L524.05 887.08L524.35 887.58L524.57 888.14L524.70 888.76L524.56 889.62L524.49 890.32L524.51 890.90L524.57 891.41L524.67 891.87L524.79 892.28L524.96 892.67L525.17 893.02L525.43 893.35L525.75 893.67L526.11 893.98L526.54 894.29L527.05 894.59L527.88 894.85L528.50 895.21L528.95 895.65"/><circle cx="516.2" cy="897.9" r="4.9"/></g>
<g fill="none" stroke="#8c8d9a" stroke-width="2.4" stroke-linecap="round" stroke-linejoin="miter" ><path d="M685.1 888.0V907.8L703.7 897.9Z"/></g>
<g fill="none" stroke="#1f1a1a" stroke-width="1.9" stroke-linecap="round" stroke-linejoin="round" ><circle cx="485.9" cy="608.9" r="10.8"/><path d="M482.4 607.0L485.5 610.7L489.4 602.5M481.2 613.9H490.7"/></g>
<clipPath id="c846_573"><rect x="863.9" y="806.75" width="36.3" height="28.45" rx="7"/></clipPath>
<g fill="none" stroke="#dcdcde" stroke-width="2" stroke-linecap="round" stroke-linejoin="round" ><g clip-path="url(#c846_573)"><circle cx="882" cy="821" r="23.2" stroke-width="13.7"/><circle cx="882" cy="821" r="12.65" stroke-width="3.1"/><circle cx="882" cy="821" r="6.97" stroke-width="3.55"/><circle cx="882" cy="821" r="3.3" fill="#dcdcde" stroke="none"/></g></g>
<g fill="none" stroke="#8c8d9a" stroke-width="2.2" stroke-linecap="round" stroke-linejoin="round" ><path d="M910.11 909.93L909.49 909.62L908.84 909.00L908.31 908.70L907.82 908.47L907.37 908.30L906.94 908.18L906.52 908.12L906.11 908.10L905.69 908.14L905.27 908.23L904.82 908.37L904.36 908.57L903.85 908.82L903.29 909.20L902.62 909.79L902.01 910.01L901.42 910.11L900.84 910.12L900.28 910.03L899.75 909.85L899.27 909.60L898.83 909.26L898.45 908.85L898.13 908.38L897.89 907.84L897.73 907.23L897.71 906.52L897.91 905.67L897.90 905.07L897.85 904.54L897.77 904.07L897.65 903.64L897.49 903.25L897.30 902.88L897.05 902.55L896.75 902.23L896.40 901.91L895.99 901.61L895.51 901.30L894.88 901.00L894.06 900.71L893.57 900.29L893.20 899.82L892.91 899.31L892.72 898.78L892.62 898.24L892.61 897.69L892.69 897.14L892.86 896.61L893.12 896.10L893.48 895.62L893.93 895.19L894.58 894.83L895.39 894.57L895.89 894.27L896.31 893.96L896.67 893.65L896.98 893.33L897.24 893.00L897.45 892.64L897.62 892.26L897.74 891.84L897.83 891.37L897.89 890.86L897.91 890.28L897.82 889.55L897.70 888.72L897.84 888.10L898.07 887.55L898.37 887.05L898.73 886.63L899.16 886.28L899.63 886.00L900.15 885.80L900.70 885.70L901.28 885.68L901.87 885.75L902.48 885.94L903.13 886.42L903.73 886.90L904.24 887.18L904.72 887.38L905.16 887.54L905.59 887.64L906.01 887.69L906.42 887.69L906.84 887.64L907.27 887.53L907.71 887.37L908.19 887.16L908.71 886.88L909.33 886.33L909.96 885.93L910.57 885.75L911.16 885.68L911.73 885.70L912.28 885.81L912.80 886.01L913.27 886.30L913.69 886.65L914.05 887.08L914.35 887.58L914.57 888.14L914.70 888.76L914.56 889.62L914.49 890.32L914.51 890.90L914.57 891.41L914.67 891.87L914.79 892.28L914.96 892.67L915.17 893.02L915.43 893.35L915.75 893.67L916.11 893.98L916.54 894.29L917.05 894.59L917.88 894.85L918.50 895.21L918.95 895.65"/><circle cx="906.2" cy="897.9" r="4.9"/></g>
<g fill="none" stroke="#8c8d9a" stroke-width="2.4" stroke-linecap="round" stroke-linejoin="miter" ><path d="M1075.1 888.0V907.8L1093.7 897.9Z"/></g>
<g fill="none" stroke="#1f1a1a" stroke-width="1.9" stroke-linecap="round" stroke-linejoin="round" ><circle cx="875.9" cy="608.9" r="10.8"/><path d="M872.4 607.0L875.5 610.7L879.4 602.5M871.2 613.9H880.7"/></g>
<clipPath id="c456_967"><rect x="473.9" y="1200.75" width="36.3" height="28.45" rx="7"/></clipPath>
<g fill="none" stroke="#dcdcde" stroke-width="2" stroke-linecap="round" stroke-linejoin="round" ><g clip-path="url(#c456_967)"><circle cx="492" cy="1215" r="23.2" stroke-width="13.7"/><circle cx="492" cy="1215" r="12.65" stroke-width="3.1"/><circle cx="492" cy="1215" r="6.97" stroke-width="3.55"/><circle cx="492" cy="1215" r="3.3" fill="#dcdcde" stroke="none"/></g></g>
<g fill="none" stroke="#8c8d9a" stroke-width="2.2" stroke-linecap="round" stroke-linejoin="round" ><path d="M520.11 1303.93L519.49 1303.62L518.84 1303.00L518.31 1302.70L517.82 1302.47L517.37 1302.30L516.94 1302.18L516.52 1302.12L516.11 1302.10L515.69 1302.14L515.27 1302.23L514.82 1302.37L514.36 1302.57L513.85 1302.82L513.29 1303.20L512.62 1303.79L512.01 1304.01L511.42 1304.11L510.84 1304.12L510.28 1304.03L509.75 1303.85L509.27 1303.60L508.83 1303.26L508.45 1302.85L508.13 1302.38L507.89 1301.84L507.73 1301.23L507.71 1300.52L507.91 1299.67L507.90 1299.07L507.85 1298.54L507.77 1298.07L507.65 1297.64L507.49 1297.25L507.30 1296.88L507.05 1296.55L506.75 1296.23L506.40 1295.91L505.99 1295.61L505.51 1295.30L504.88 1295.00L504.06 1294.71L503.57 1294.29L503.20 1293.82L502.91 1293.31L502.72 1292.78L502.62 1292.24L502.61 1291.69L502.69 1291.14L502.86 1290.61L503.12 1290.10L503.48 1289.62L503.93 1289.19L504.58 1288.83L505.39 1288.57L505.89 1288.27L506.31 1287.96L506.67 1287.65L506.98 1287.33L507.24 1287.00L507.45 1286.64L507.62 1286.26L507.74 1285.84L507.83 1285.37L507.89 1284.86L507.91 1284.28L507.82 1283.55L507.70 1282.72L507.84 1282.10L508.07 1281.55L508.37 1281.05L508.73 1280.63L509.16 1280.28L509.63 1280.00L510.15 1279.80L510.70 1279.70L511.28 1279.68L511.87 1279.75L512.48 1279.94L513.13 1280.42L513.73 1280.90L514.24 1281.18L514.72 1281.38L515.16 1281.54L515.59 1281.64L516.01 1281.69L516.42 1281.69L516.84 1281.64L517.27 1281.53L517.71 1281.37L518.19 1281.16L518.71 1280.88L519.33 1280.33L519.96 1279.93L520.57 1279.75L521.16 1279.68L521.73 1279.70L522.28 1279.81L522.80 1280.01L523.27 1280.30L523.69 1280.65L524.05 1281.08L524.35 1281.58L524.57 1282.14L524.70 1282.76L524.56 1283.62L524.49 1284.32L524.51 1284.90L524.57 1285.41L524.67 1285.87L524.79 1286.28L524.96 1286.67L525.17 1287.02L525.43 1287.35L525.75 1287.67L526.11 1287.98L526.54 1288.29L527.05 1288.59L527.88 1288.85L528.50 1289.21L528.95 1289.65"/><circle cx="516.2" cy="1291.9" r="4.9"/></g>
<g fill="none" stroke="#8c8d9a" stroke-width="2.4" stroke-linecap="round" stroke-linejoin="miter" ><path d="M685.1 1282.0V1301.8L703.7 1291.9Z"/></g>
<g fill="none" stroke="#1f1a1a" stroke-width="1.9" stroke-linecap="round" stroke-linejoin="round" ><circle cx="485.9" cy="1002.9" r="10.8"/><path d="M482.4 1001.0L485.5 1004.7L489.4 996.5M481.2 1007.9H490.7"/></g>
<clipPath id="c846_967"><rect x="863.9" y="1200.75" width="36.3" height="28.45" rx="7"/></clipPath>
<g fill="none" stroke="#dcdcde" stroke-width="2" stroke-linecap="round" stroke-linejoin="round" ><g clip-path="url(#c846_967)"><circle cx="882" cy="1215" r="23.2" stroke-width="13.7"/><circle cx="882" cy="1215" r="12.65" stroke-width="3.1"/><circle cx="882" cy="1215" r="6.97" stroke-width="3.55"/><circle cx="882" cy="1215" r="3.3" fill="#dcdcde" stroke="none"/></g></g>
<g fill="none" stroke="#8c8d9a" stroke-width="2.2" stroke-linecap="round" stroke-linejoin="round" ><path d="M910.11 1303.93L909.49 1303.62L908.84 1303.00L908.31 1302.70L907.82 1302.47L907.37 1302.30L906.94 1302.18L906.52 1302.12L906.11 1302.10L905.69 1302.14L905.27 1302.23L904.82 1302.37L904.36 1302.57L903.85 1302.82L903.29 1303.20L902.62 1303.79L902.01 1304.01L901.42 1304.11L900.84 1304.12L900.28 1304.03L899.75 1303.85L899.27 1303.60L898.83 1303.26L898.45 1302.85L898.13 1302.38L897.89 1301.84L897.73 1301.23L897.71 1300.52L897.91 1299.67L897.90 1299.07L897.85 1298.54L897.77 1298.07L897.65 1297.64L897.49 1297.25L897.30 1296.88L897.05 1296.55L896.75 1296.23L896.40 1295.91L895.99 1295.61L895.51 1295.30L894.88 1295.00L894.06 1294.71L893.57 1294.29L893.20 1293.82L892.91 1293.31L892.72 1292.78L892.62 1292.24L892.61 1291.69L892.69 1291.14L892.86 1290.61L893.12 1290.10L893.48 1289.62L893.93 1289.19L894.58 1288.83L895.39 1288.57L895.89 1288.27L896.31 1287.96L896.67 1287.65L896.98 1287.33L897.24 1287.00L897.45 1286.64L897.62 1286.26L897.74 1285.84L897.83 1285.37L897.89 1284.86L897.91 1284.28L897.82 1283.55L897.70 1282.72L897.84 1282.10L898.07 1281.55L898.37 1281.05L898.73 1280.63L899.16 1280.28L899.63 1280.00L900.15 1279.80L900.70 1279.70L901.28 1279.68L901.87 1279.75L902.48 1279.94L903.13 1280.42L903.73 1280.90L904.24 1281.18L904.72 1281.38L905.16 1281.54L905.59 1281.64L906.01 1281.69L906.42 1281.69L906.84 1281.64L907.27 1281.53L907.71 1281.37L908.19 1281.16L908.71 1280.88L909.33 1280.33L909.96 1279.93L910.57 1279.75L911.16 1279.68L911.73 1279.70L912.28 1279.81L912.80 1280.01L913.27 1280.30L913.69 1280.65L914.05 1281.08L914.35 1281.58L914.57 1282.14L914.70 1282.76L914.56 1283.62L914.49 1284.32L914.51 1284.90L914.57 1285.41L914.67 1285.87L914.79 1286.28L914.96 1286.67L915.17 1287.02L915.43 1287.35L915.75 1287.67L916.11 1287.98L916.54 1288.29L917.05 1288.59L917.88 1288.85L918.50 1289.21L918.95 1289.65"/><circle cx="906.2" cy="1291.9" r="4.9"/></g>
<g fill="none" stroke="#8c8d9a" stroke-width="2.4" stroke-linecap="round" stroke-linejoin="miter" ><path d="M1075.1 1282.0V1301.8L1093.7 1291.9Z"/></g>
<g fill="none" stroke="#1f1a1a" stroke-width="1.9" stroke-linecap="round" stroke-linejoin="round" ><circle cx="875.9" cy="1002.9" r="10.8"/><path d="M872.4 1001.0L875.5 1004.7L879.4 996.5M871.2 1007.9H880.7"/></g>
<g fill="#fff" stroke="#000" stroke-width="1.3" stroke-linecap="round" stroke-linejoin="round" ><path d="M1080.6 529.2C1080.6 527 1084.5 527 1084.5 529.2V533.4C1085.6 532.4 1087.8 532.6 1088.4 534.3C1089.6 533.6 1091.6 534 1092.2 535.8C1093.8 535.2 1096.6 536 1096.6 538.6V546.8L1094.6 552.2V556.8H1082.8L1081 552.8L1075.5 542C1074.8 540.6 1076.4 539.4 1077.5 540.6L1080.4 543.8Z"/><path d="M1084.5 533.4V540M1088.4 534.5V540M1092.2 536V540.5" fill="none"/></g></svg>
</body>
</html>
